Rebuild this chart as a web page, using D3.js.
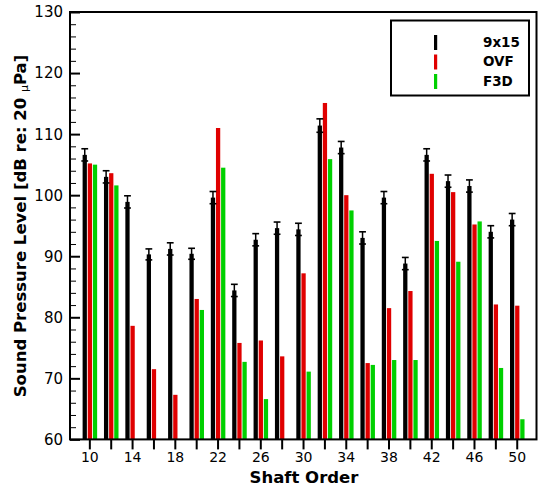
<!DOCTYPE html>
<html>
<head>
<meta charset="utf-8">
<script src="https://cdn.jsdelivr.net/npm/d3@7"></script>
<style>
  html, body { margin: 0; padding: 0; background: #fff; }
  svg { display: block; }
</style>
</head>
<body>
<svg id="chart" width="538" height="489"></svg>
<script>
// ---- data ----
const shaftOrders = [10,12,14,16,18,20,22,24,26,28,30,32,34,36,38,40,42,44,46,48,50];
const spl9x15 = [106.6,103.0,98.9,90.3,91.2,90.4,99.6,84.4,92.7,94.6,94.4,111.4,107.8,93.0,99.6,88.8,106.6,102.3,101.5,94.0,96.0];
const err9x15 = [1.0,1.0,1.0,0.9,1.0,0.9,1.0,1.0,1.0,1.0,1.0,1.1,1.0,1.0,1.0,1.0,1.0,1.0,1.0,1.0,1.0];
const splOVF  = [105.2,103.6,78.6,71.5,67.3,83.0,111.0,75.8,76.2,73.6,87.2,115.1,100.0,72.5,81.5,84.3,103.5,100.5,95.2,82.1,81.9];
const splF3D  = [105.0,101.6,null,null,null,81.2,104.5,72.7,66.6,null,71.1,105.9,97.5,72.2,73.0,73.0,92.5,89.1,95.7,71.7,63.3];
const seriesNames = ["9x15","OVF","F3D"];
const seriesColors = ["#000000","#e00000","#00d000"];
const yTickValues = [60,70,80,90,100,110,120,130];
const xLabelValues = [10,14,18,22,26,30,34,38,42,46,50];

// ---- layout ----
const svg = d3.select("#chart");
const L = 70, R = 536.5, T = 12, B = 439.4;
const x = d3.scaleLinear().domain([8.19, 51.85]).range([L, R]);
const y = d3.scaleLinear().domain([60, 130]).range([B, T]);
const unit = x(1) - x(0);
const barW = 0.4 * unit;
const offsets = [-0.43, 0.05, 0.53];
const tickFont = "DejaVu Sans, sans-serif";

const series = [spl9x15, splOVF, splF3D];

// bars
series.forEach((vals, si) => {
  svg.append("g").selectAll("rect")
    .data(shaftOrders.map((o, i) => ({o, v: vals[i]})).filter(d => d.v != null))
    .join("rect")
    .attr("x", d => x(d.o + offsets[si]) - barW / 2)
    .attr("y", d => y(d.v))
    .attr("width", barW)
    .attr("height", d => y(60) - y(d.v))
    .attr("fill", seriesColors[si]);
});

// error bars on 9x15
const eb = svg.append("g").attr("stroke", "#000");
shaftOrders.forEach((o, i) => {
  const cx = x(o + offsets[0]);
  const v = spl9x15[i], e = err9x15[i];
  eb.append("line").attr("x1", cx).attr("x2", cx).attr("y1", y(v + e)).attr("y2", y(v - e)).attr("stroke-width", 1.5);
  eb.append("line").attr("x1", cx - 3.4).attr("x2", cx + 3.4).attr("y1", y(v + e)).attr("y2", y(v + e)).attr("stroke-width", 1.6);
  eb.append("line").attr("x1", cx - 3.4).attr("x2", cx + 3.4).attr("y1", y(v - e)).attr("y2", y(v - e)).attr("stroke-width", 1.6);
});

// y axis ticks (inward)
const yAxis = d3.axisRight(y).tickValues(yTickValues).tickSize(10).tickFormat("");
const gy = svg.append("g").attr("transform", `translate(${L},0)`).call(yAxis);
gy.select(".domain").remove();
gy.selectAll(".tick line").attr("stroke", "#000").attr("stroke-width", 2);
const yMinor = d3.axisRight(y).tickValues(d3.range(60, 131, 2).filter(v => v % 10 !== 0)).tickSize(6).tickFormat("");
const gym = svg.append("g").attr("transform", `translate(${L},0)`).call(yMinor);
gym.select(".domain").remove();
gym.selectAll(".tick line").attr("stroke", "#000").attr("stroke-width", 1);

// y tick labels
svg.append("g").selectAll("text").data(yTickValues).join("text")
  .attr("x", 63).attr("y", d => y(d) + 5.4)
  .attr("text-anchor", "end")
  .attr("font-family", tickFont).attr("font-size", 15)
  .text(d => d);

// x axis ticks (outward)
const xAxis = d3.axisBottom(x).tickValues(shaftOrders).tickSize(10)
  .tickFormat(d => xLabelValues.includes(d) ? d : "");
const gx = svg.append("g").attr("transform", `translate(0,${B})`).call(xAxis);
gx.select(".domain").remove();
gx.selectAll(".tick line").attr("stroke", "#000").attr("stroke-width", 2);
gx.selectAll(".tick text").attr("fill", "#000").attr("font-family", tickFont).attr("font-size", 14)
  .attr("y", 13).attr("dy", "0.71em");

// frame
svg.append("rect").attr("x", L).attr("y", T).attr("width", R - L).attr("height", B - T)
  .attr("fill", "none").attr("stroke", "#000").attr("stroke-width", 2);

// axis titles
svg.append("text").attr("x", 304).attr("y", 482.5).attr("text-anchor", "middle")
  .attr("font-family", "DejaVu Sans, sans-serif").attr("font-weight", "bold").attr("font-size", 16.5)
  .text("Shaft Order");
const yt = svg.append("text").attr("transform", "translate(26,226) rotate(-90)")
  .attr("text-anchor", "middle")
  .attr("font-family", "DejaVu Sans, sans-serif").attr("font-weight", "bold").attr("font-size", 16.5);
yt.append("tspan").text("Sound Pressure Level [dB re: 20 ");
yt.append("tspan").attr("font-size", 11).attr("font-weight", "normal").attr("dy", 2).text("μ");
yt.append("tspan").attr("dy", -2).text("Pa]");

// legend
const lg = svg.append("g");
lg.append("rect").attr("x", 391).attr("y", 20.5).attr("width", 138).attr("height", 75)
  .attr("fill", "#fff").attr("stroke", "#000").attr("stroke-width", 2);
seriesNames.forEach((name, i) => {
  lg.append("rect").attr("x", 434).attr("y", 35 + i * 19.5).attr("width", 3.2).attr("height", 15)
    .attr("fill", seriesColors[i]);
  lg.append("text").attr("x", 483).attr("y", 46.8 + i * 19.6)
    .attr("font-family", "DejaVu Sans, sans-serif").attr("font-weight", "bold").attr("font-size", 13.5)
    .text(name);
});
</script>
</body>
</html>
